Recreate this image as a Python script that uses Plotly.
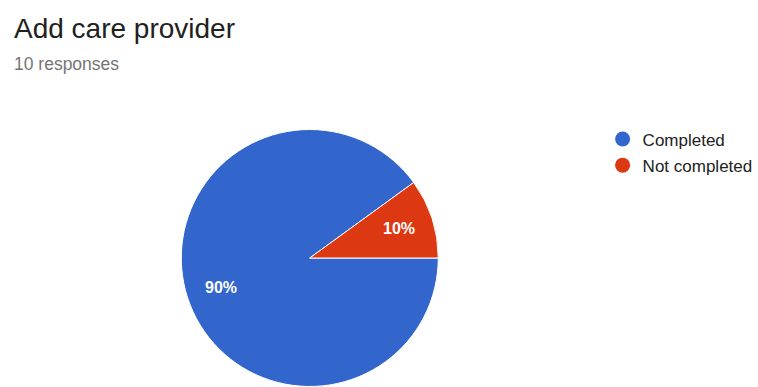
import math
import plotly.graph_objects as go

categories = ["Completed", "Not completed"]
values = [9, 1]
colors = ["#3366CC", "#DC3912"]
title_text = "Add care provider"
subtitle_text = "10 responses"

W, H = 758, 387
pie_x = [182 / W, 440 / W]
pie_y = [0.0, 258 / H]

fig = go.Figure()
fig.add_trace(go.Pie(
    labels=categories,
    values=values,
    sort=False,
    direction="clockwise",
    rotation=90,
    marker=dict(colors=colors, line=dict(color="white", width=1)),
    textinfo="none",
    domain=dict(x=pie_x, y=pie_y),
    showlegend=False,
    hoverinfo="skip",
))
for name, c in zip(categories, colors):
    fig.add_trace(go.Scatter(
        x=[None], y=[None], mode="markers", name=name, legendgroup=name,
        marker=dict(symbol="circle", size=15, color=c),
        hoverinfo="skip",
    ))

# percentage labels placed at 73% of the radius, at each slice's mid-angle
total = sum(values)
r_px = min((pie_x[1] - pie_x[0]) * W, (pie_y[1] - pie_y[0]) * H) / 2
cx = (pie_x[0] + pie_x[1]) / 2
cy = (pie_y[0] + pie_y[1]) / 2
annotations = []
start = 0.0  # 3 o'clock, going clockwise
for v in values:
    sweep = 360.0 * v / total
    mid = math.radians(start - sweep / 2)
    lr = 0.73 * r_px
    annotations.append(dict(
        text="<b>%d%%</b>" % round(100 * v / total),
        x=cx + lr * math.cos(mid) / W, y=cy + lr * math.sin(mid) / H,
        xref="paper", yref="paper", xanchor="center", yanchor="middle",
        showarrow=False,
        font=dict(family="Liberation Sans, Arial", size=16, color="white"),
    ))
    start -= sweep

annotations += [
    dict(text=title_text, x=12 / W, y=1 - 11 / H, xref="paper", yref="paper",
         xanchor="left", yanchor="top", showarrow=False,
         font=dict(family="Liberation Sans, Arial", size=28, color="#212121")),
    dict(text=subtitle_text, x=12 / W, y=1 - 52 / H, xref="paper", yref="paper",
         xanchor="left", yanchor="top", showarrow=False,
         font=dict(family="Liberation Sans, Arial", size=17.5, color="#757575")),
]

fig.update_layout(
    width=W, height=H,
    margin=dict(l=0, r=0, t=0, b=0),
    paper_bgcolor="white", plot_bgcolor="white",
    xaxis=dict(visible=False), yaxis=dict(visible=False),
    legend=dict(
        x=605 / W, y=1 - 121.5 / H, xanchor="left", yanchor="top",
        font=dict(family="Liberation Sans, Arial", size=17, color="#222222"),
        itemsizing="trace", tracegroupgap=1, traceorder="grouped",
    ),
    annotations=annotations,
)

fig.write_html("out.html",
               config={"displayModeBar": False},
               post_script="document.body.style.margin='0';document.body.style.overflow='hidden';")
